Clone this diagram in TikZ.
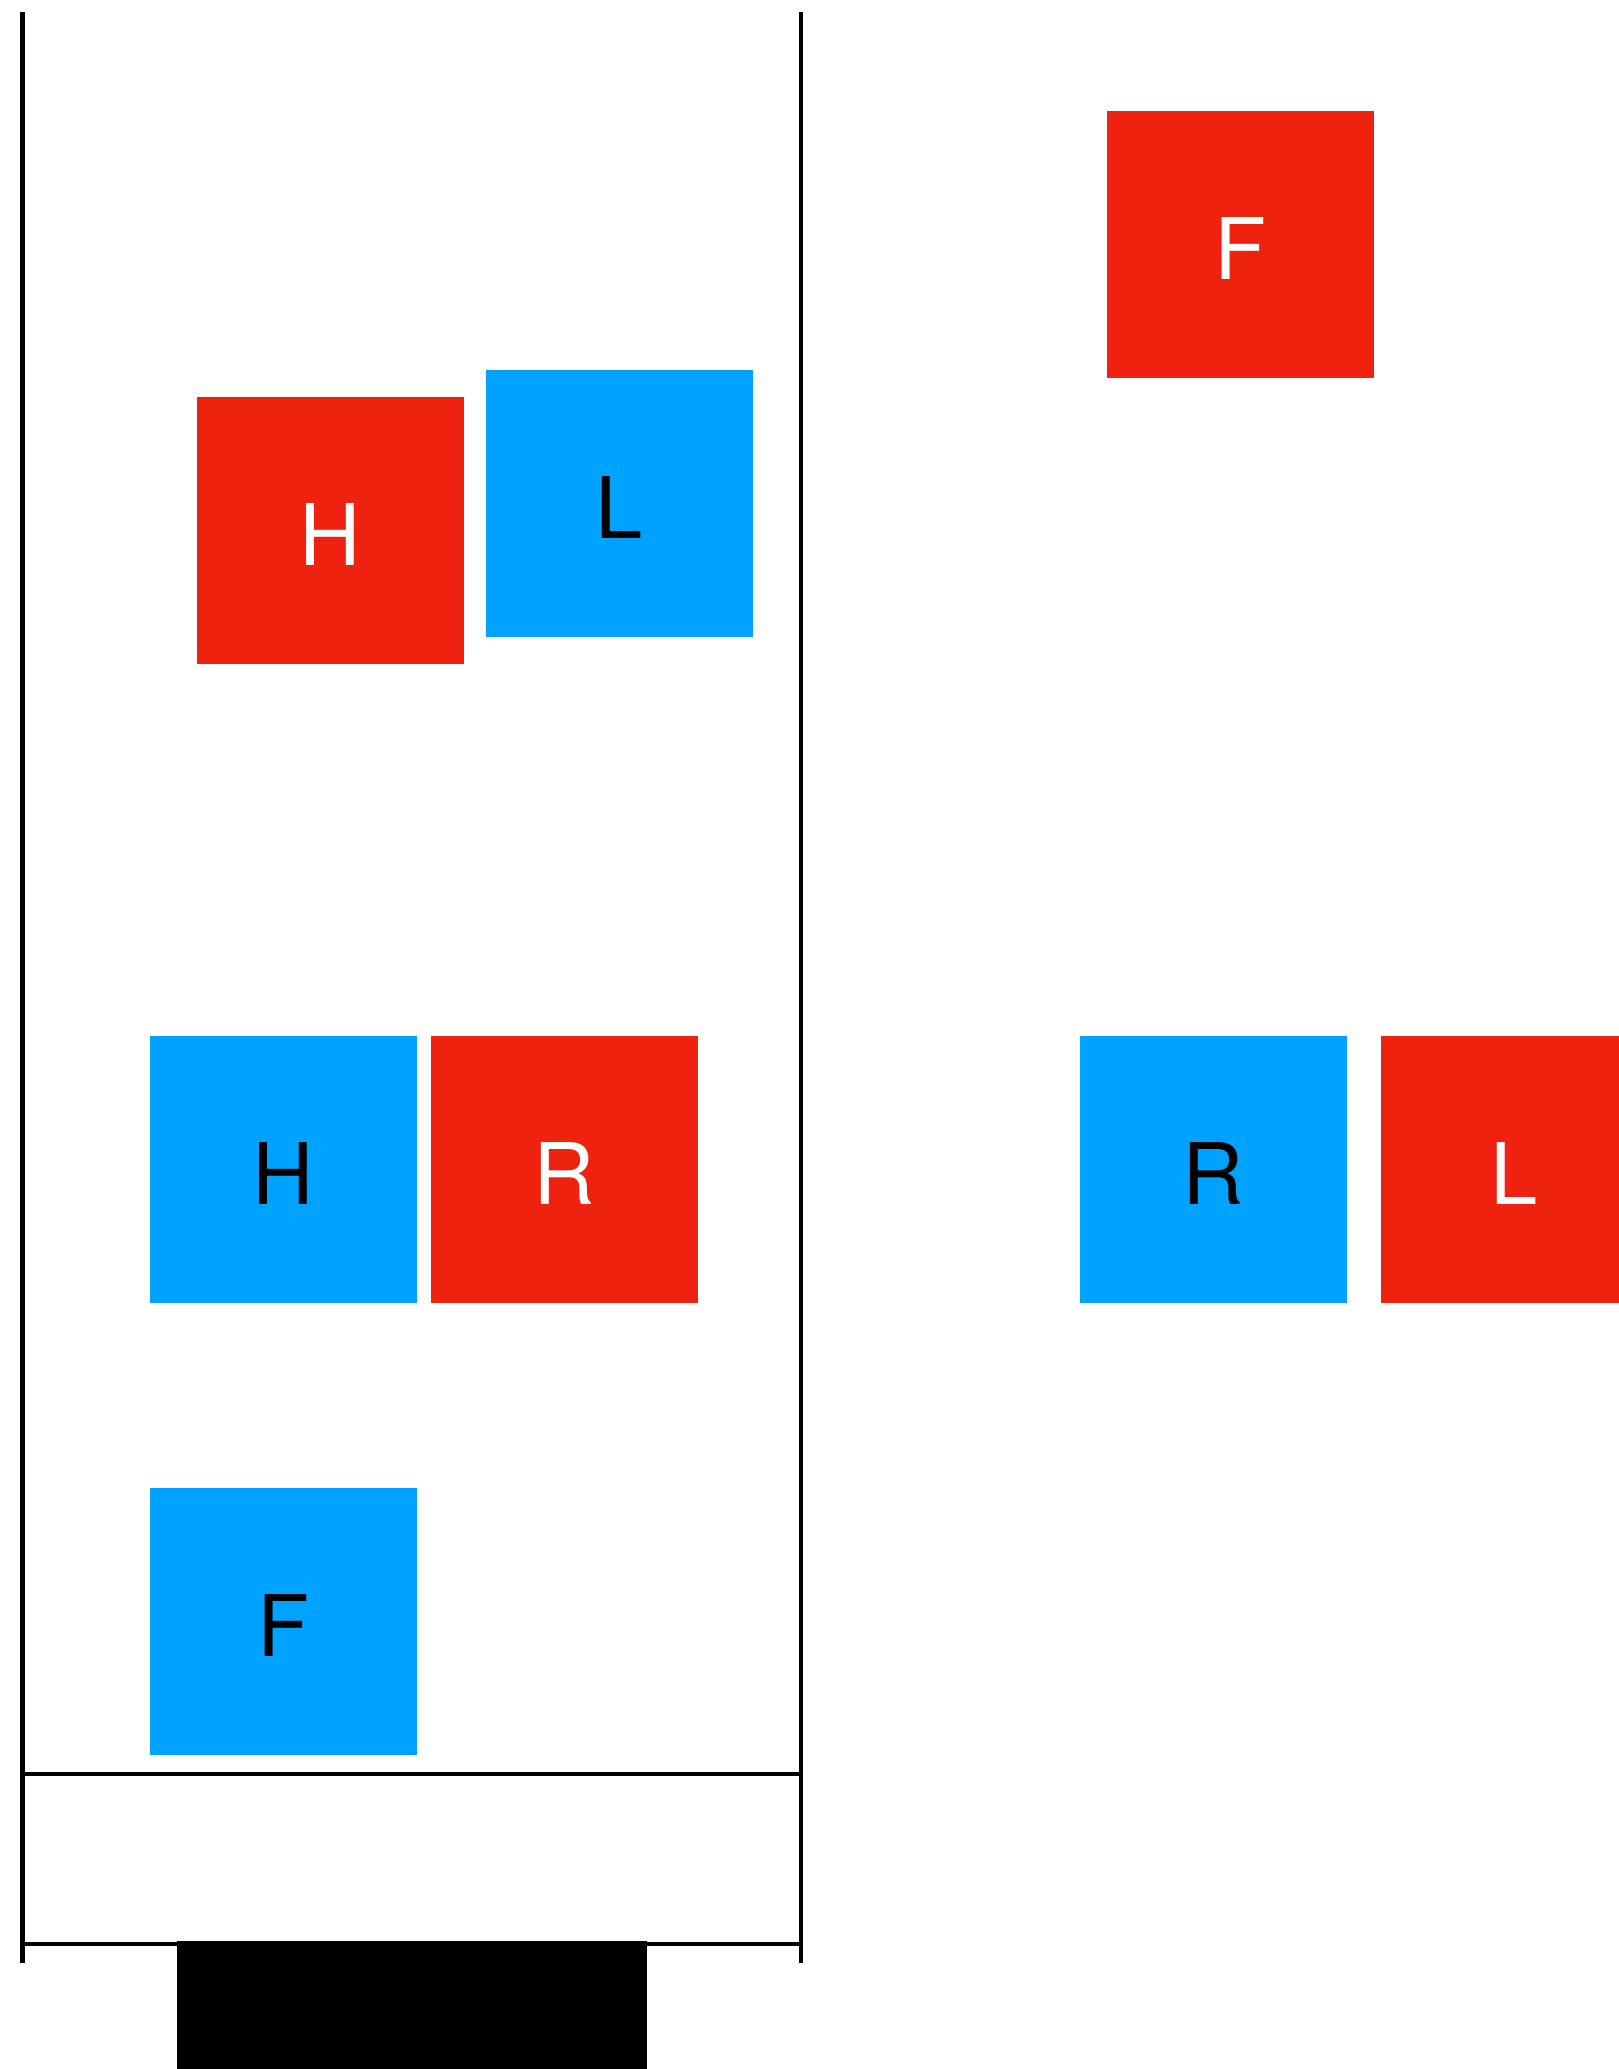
\documentclass[tikz,border=0pt]{standalone}
\usepackage{fontspec}
\setmainfont{TeX Gyre Heros}
\usepackage{tikz}
\definecolor{hot}{HTML}{EE220F}
\definecolor{cold}{HTML}{00A2FF}

\begin{document}
\begin{tikzpicture}[x=1pt,y=-1pt,
 tile/.style={minimum size=267pt,inner sep=0pt,text height=70pt,text depth=0pt,
  font=\fontsize{85}{100}\selectfont},
 hottile/.style={tile,fill=hot,text=white},
 coldtile/.style={tile,fill=cold,text=black},
 wall/.style={line width=4.5pt}]
 \useasboundingbox (0,0) rectangle (1619,2069);
 % shaft
 \draw[wall] (22.5,12) -- (22.5,1963);
 \draw[wall] (801,12) -- (801,1963);
 \draw[wall] (22.5,1774) -- (801,1774);
 \draw[wall] (22.5,1944) -- (801,1944);
 \fill[black] (177,1941) rectangle (647,2069);
 % tiles inside
 \node[hottile] (hTop) at (330.5,530.5) {H};
 \node[coldtile] (lTop) at (619.5,503) {L};
 \node[coldtile] (hMid) at (283.5,1169) {H};
 \node[hottile] (rMid) at (564,1169) {R};
 \node[coldtile] (fLow) at (283.5,1621.5) {F};
 % tiles outside
 \node[hottile] (fOut) at (1240.5,244) {F};
 \node[coldtile] (rOut) at (1213.5,1169) {R};
 \node[hottile] (lOut) at (1514.5,1169) {L};
\end{tikzpicture}
\end{document}
